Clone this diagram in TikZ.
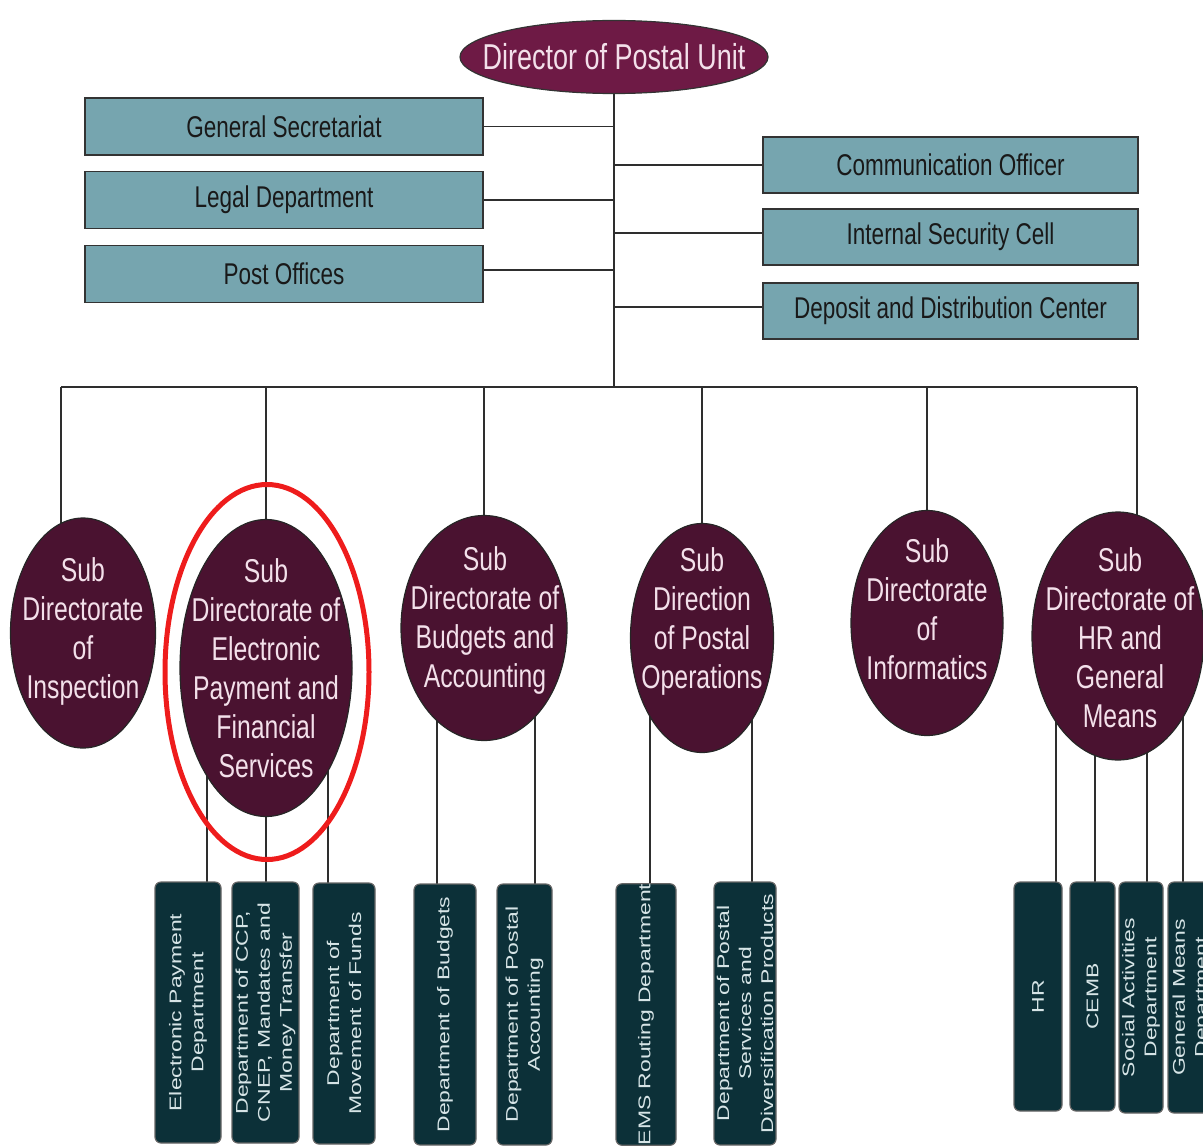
\documentclass[tikz,border=0pt]{standalone}
\usepackage{fontspec}
\setmainfont{Liberation Sans}
\newfontfamily\condfont[FakeStretch=0.75]{Liberation Sans}
\newfontfamily\widefont[FakeStretch=1.35]{Liberation Sans}
\usetikzlibrary{shapes.geometric}
\pgfdeclarelayer{bg}
\pgfsetlayers{bg,main}
\definecolor{dirfill}{HTML}{6E1A45}
\definecolor{subfill}{HTML}{4A1230}
\definecolor{topbox}{HTML}{76A5AF}
\definecolor{botbox}{HTML}{0C3038}
\definecolor{hlred}{HTML}{EE1C1C}
\definecolor{linec}{HTML}{2E2E2E}
\definecolor{pinktext}{HTML}{F3E0EA}
\definecolor{bottext}{HTML}{D6E4E6}
\begin{document}
\begin{tikzpicture}[x=0.5pt,y=-0.5pt,
  conn/.style={draw=linec, line width=0.7pt},
  dirnode/.style={ellipse, fill=dirfill, draw=black!80, line width=0.6pt, inner sep=0pt,
    minimum width=154pt, minimum height=36.5pt},
  dirtext/.style={inner sep=0pt, text=pinktext, font=\condfont\fontsize{18}{21}\selectfont},
  topboxL/.style={rectangle, fill=topbox, draw=black!80, line width=0.7pt, inner sep=0pt,
    minimum width=199pt, minimum height=28.5pt, text=black!90,
    font=\condfont\fontsize{15}{18}\selectfont},
  topboxR/.style={topboxL, minimum width=187.5pt, minimum height=28pt},
  subell/.style={ellipse, fill=subfill, draw=black!85, line width=0.6pt, inner sep=0pt},
  elltext/.style={align=center, text=pinktext, inner sep=0pt,
    font=\condfont\fontsize{16.5}{19.5}\selectfont},
  hlring/.style={ellipse, draw=hlred, line width=2.5pt, inner sep=0pt,
    minimum width=102pt, minimum height=187.5pt},
  botboxstyle/.style={rectangle, rounded corners=3pt, fill=botbox, draw=black!60, line width=0.6pt,
    inner sep=0pt, rotate=90, align=center, text=bottext,
    font=\widefont\fontsize{8.5}{11}\selectfont}
]
\useasboundingbox (0,0) rectangle (1203,1145);
\clip (0,0) rectangle (1203,1145);

% top
\node[dirnode] (dir) at (614,57) {};
\node[dirtext] (dirt) at (614,57) {Director of Postal Unit};
\node[topboxL] (gs) at (284,126.5) {General Secretariat};
\node[topboxL] (legal) at (284,200) {Legal Department};
\node[topboxL] (po) at (284,274) {Post Offices};
\node[topboxR] (co) at (950.5,165) {Communication Officer};
\node[topboxR] (isc) at (950.5,237) {Internal Security Cell};
\node[topboxR] (ddc) at (950.5,311) {Deposit and Distribution Center};

\coordinate (bus) at (614,387);
\coordinate (busL) at (61,387);
\coordinate (busR) at (1137,387);

% sub directorates
\node[subell, minimum width=72.5pt, minimum height=115pt] (s1) at (83,633) {};
\node[subell, minimum width=86pt, minimum height=148.5pt] (s2) at (266,668) {};
\node[subell, minimum width=83pt, minimum height=112.5pt] (s3) at (484,628) {};
\node[subell, minimum width=71.5pt, minimum height=114.5pt] (s4) at (702,638) {};
\node[subell, minimum width=76pt, minimum height=112.5pt] (s5) at (927,623) {};
\node[subell, minimum width=86pt, minimum height=124pt] (s6) at (1118,636) {};

\node[elltext] (s1t) at (83,631.5) {Sub\\Directorate\\of\\Inspection};
\node[elltext] (s2t) at (266,668.5) {Sub\\Directorate of\\Electronic\\Payment and\\Financial\\Services};
\node[elltext] (s3t) at (485,620) {Sub\\Directorate of\\Budgets and\\Accounting};
\node[elltext] (s4t) at (702,621) {Sub\\Direction\\of Postal\\Operations};
\node[elltext] (s5t) at (927,609) {Sub\\Directorate\\of\\Informatics};
\node[elltext] (s6t) at (1120,638) {Sub\\Directorate of\\HR and\\General\\Means};

% bottom boxes
\node[botboxstyle, minimum width=130.5pt, minimum height=33pt] (b1) at (188,1012.5) {Electronic Payment\\Department};
\node[botboxstyle, minimum width=130.5pt, minimum height=33.5pt] (b2) at (265.5,1012.5) {Department of CCP,\\CNEP, Mandates and\\Money Transfer};
\node[botboxstyle, minimum width=130.5pt, minimum height=31pt] (b3) at (344,1013.5) {Department of\\Movement of Funds};
\node[botboxstyle, minimum width=130.5pt, minimum height=31pt] (b4) at (445,1014.5) {Department of Budgets};
\node[botboxstyle, minimum width=130.5pt, minimum height=27.5pt] (b5) at (524.5,1014.5) {Department of Postal\\Accounting};
\node[botboxstyle, minimum width=130.5pt, minimum height=30pt] (b6) at (646,1014.5) {EMS Routing Department};
\node[botboxstyle, minimum width=131.5pt, minimum height=31pt] (b7) at (745,1013.5) {Department of Postal\\Services and\\Diversification Products};
\node[botboxstyle, minimum width=114.5pt, minimum height=24pt] (b8) at (1038,996.5) {HR};
\node[botboxstyle, minimum width=114.5pt, minimum height=22.5pt] (b9) at (1092.5,996.5) {CEMB};
\node[botboxstyle, minimum width=115.5pt, minimum height=22pt] (b10) at (1141,997.5) {Social Activities\\Department};
\node[botboxstyle, minimum width=115.5pt, minimum height=23.5pt] (b11) at (1191.5,997.5) {General Means\\Department};

% highlight ring
\node[hlring] (hl) at (267,672) {};

% connector end points on box tops
\coordinate (t1) at (207,882);
\coordinate (t2) at (266,882);
\coordinate (t3) at (328,884);
\coordinate (t4) at (437,884);
\coordinate (t5) at (535,884);
\coordinate (t6) at (650,884);
\coordinate (t7) at (752,882);
\coordinate (t8) at (1056,882);
\coordinate (t9) at (1095,882);
\coordinate (t10) at (1147,882);
\coordinate (t11) at (1183,882);

\begin{pgfonlayer}{bg}
  \draw[conn] (dir.center) -- (bus);
  \draw[conn] (busL) -- (busR);
  \draw[conn] (gs.east) -- (gs.east -| dir.center);
  \draw[conn] (legal.east) -- (legal.east -| dir.center);
  \draw[conn] ([yshift=2pt]po.east) -- ([yshift=2pt]po.east -| dir.center);
  \draw[conn] (co.west) -- (co.west -| dir.center);
  \draw[conn] ([yshift=2pt]isc.west) -- ([yshift=2pt]isc.west -| dir.center);
  \draw[conn] ([yshift=2pt]ddc.west) -- ([yshift=2pt]ddc.west -| dir.center);
  \draw[conn] (busL) -- (busL |- s1.center);
  \draw[conn] (bus -| s2.center) -- (s2.center);
  \draw[conn] (bus -| s3.center) -- (s3.center);
  \draw[conn] (bus -| s4.center) -- (s4.center);
  \draw[conn] (bus -| s5.center) -- (s5.center);
  \draw[conn] (busR) -- (busR |- s6.center);
  \draw[conn] (t1 |- s2.center) -- (t1);
  \draw[conn] (t2 |- s2.center) -- (t2);
  \draw[conn] (t3 |- s2.center) -- (t3);
  \draw[conn] (t4 |- s3.center) -- (t4);
  \draw[conn] (t5 |- s3.center) -- (t5);
  \draw[conn] (t6 |- s4.center) -- (t6);
  \draw[conn] (t7 |- s4.center) -- (t7);
  \draw[conn] (t8 |- s6.center) -- (t8);
  \draw[conn] (t9 |- s6.center) -- (t9);
  \draw[conn] (t10 |- s6.center) -- (t10);
  \draw[conn] (t11 |- s6.center) -- (t11);
\end{pgfonlayer}
\end{tikzpicture}
\end{document}
